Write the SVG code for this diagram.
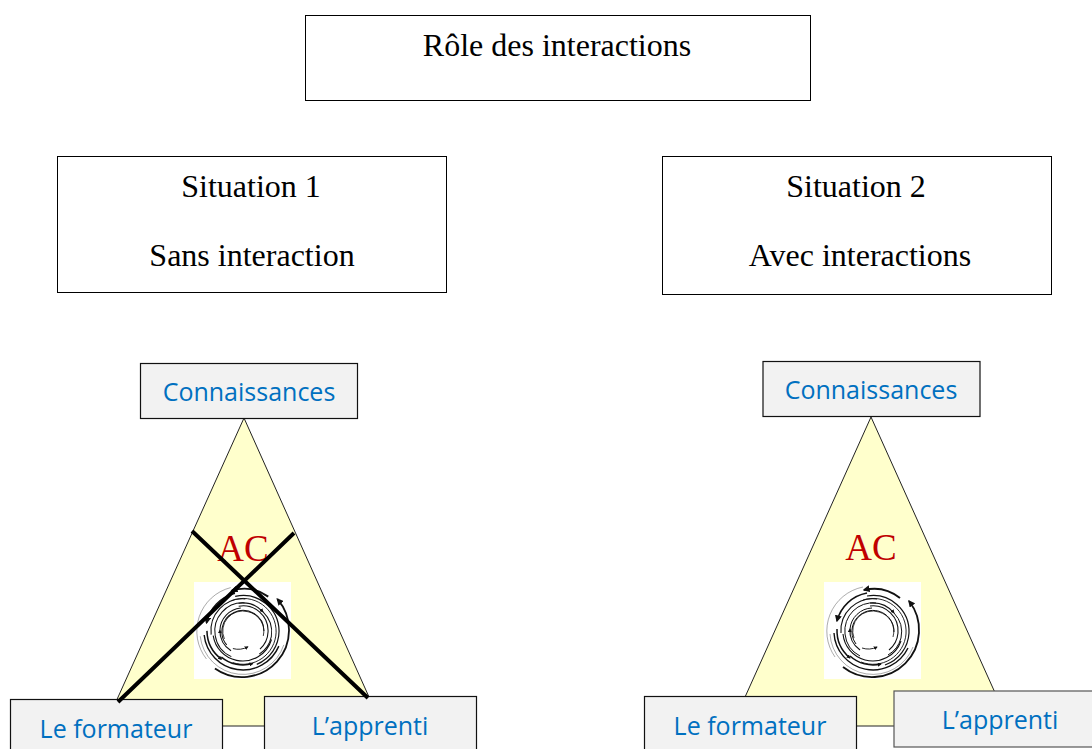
<svg xmlns="http://www.w3.org/2000/svg" width="1092" height="749" viewBox="0 0 1092 749">
<style>
.t{font-family:"Liberation Serif",serif;font-size:32px;fill:#000;text-anchor:middle}
.b{fill:#fff;stroke:#000;stroke-width:1}
.g{fill:#F2F2F2;stroke:#111;stroke-width:1.2}
.l{font-family:"Open Sans","Noto Sans",sans-serif;font-size:25px;fill:#0070C0;text-anchor:middle}
.ac{font-family:"Liberation Serif",serif;font-size:37px;fill:#C00000;text-anchor:middle}
.tri{fill:#FFFFCC;stroke:#222;stroke-width:1}
.x{stroke:#000;stroke-width:4;fill:none}
.s{fill:none;stroke:#111}
.w{fill:#fff}
</style>
<defs>
<marker id="ah" viewBox="0 0 10 10" refX="8" refY="5" markerWidth="7" markerHeight="7" markerUnits="userSpaceOnUse" orient="auto"><path d="M0 0L10 5L0 10z" fill="#111"/></marker>
<marker id="ab" viewBox="0 0 10 10" refX="8" refY="5" markerWidth="4" markerHeight="4" markerUnits="userSpaceOnUse" orient="auto"><path d="M0 0L10 5L0 10z" fill="#111"/></marker>
<g id="spiral">
<path class="s" stroke-width="0.700" opacity="0.500" d="M-10-44A45 45 0 0 0-38 26"/>
<path class="s" stroke-width="1.800" marker-end="url(#ah)" d="M-30 36A47 47 0 0 0 36-30"/>
<path class="s" stroke-width="1.900" marker-end="url(#ah)" d="M27-33A42 42 0 0 0-9-41"/>
<path class="s" stroke-width="1.500" marker-end="url(#ah)" d="M-6-38A38 38 0 0 0-36-10"/>
<path class="s" stroke-width="0.600" opacity="0.600" d="M-43 3A43 43 0 0 0 40 16"/>
<path class="s" stroke-width="1.400" d="M-39 2A39 39 0 0 0 35 17"/>
<path class="s" stroke-width="1.500" marker-end="url(#ab)" d="M-36-2A36 36 0 0 0-23 27"/>
<path class="s" stroke-width="1.500" marker-end="url(#ab)" d="M-23 25A34 34 0 0 0 8 33"/>
<path class="s" stroke-width="1.200" d="M-6-35A36 36 0 0 1 36 2A36 36 0 0 1 12 34"/>
<path class="s" stroke-width="0.900" d="M-10-31A33 33 0 0 1 33 3A33 33 0 0 1-12 31"/>
<path class="s" stroke-width="1.100" d="M-32 2A32 32 0 0 1 4-32"/>
<path class="s" stroke-width="1.100" d="M-30 3A30 30 0 0 0-8 29A30 30 0 0 0 28 10"/>
<path class="s" stroke-width="1" d="M-13 25A28 28 0 0 1-28 3A28 28 0 0 1 3-28"/>
<path class="s" stroke-width="1.100" marker-end="url(#ab)" d="M-3-28A28 28 0 0 1 21-18"/>
<path class="s" stroke-width="1" d="M21-18A28 28 0 0 1 28 7A28 28 0 0 1 15 24"/>
<path class="s" stroke-width="1.100" d="M-3-25A25 25 0 0 1 25 2A25 25 0 0 1 16 19"/>
<path class="s" stroke-width="1.200" marker-end="url(#ab)" d="M-13 19A23 23 0 0 1-23-2"/>
<path class="s" stroke-width="1" d="M-23-2A23 23 0 0 1-1-23"/>
<path class="s" stroke-width="1" d="M-17 13A21 21 0 0 1-8-19A21 21 0 0 1 21 1"/>
<path class="s" stroke-width="0.800" d="M-19 7A20 20 0 0 1 6-19A20 20 0 0 1 20 6"/>
<path class="s" stroke-width="0.900" marker-end="url(#ab)" d="M-11 17A20 20 0 0 0 4 16"/>
</g>
</defs>
<rect width="1092" height="749" fill="#fff"/>
<g id="title"><rect class="b" x="305.500" y="15.500" width="505" height="85"/><text class="t" x="557" y="56">Rôle des interactions</text></g>
<g id="situation1"><rect class="b" x="57.500" y="156.500" width="389" height="136"/><text class="t" x="251" y="197">Situation 1</text><text class="t" x="252" y="266">Sans interaction</text></g>
<g id="situation2"><rect class="b" x="662.500" y="156.500" width="389" height="138"/><text class="t" x="856" y="197">Situation 2</text><text class="t" x="860" y="266">Avec interactions</text></g>
<g id="triangle1"><path class="tri" d="M244 418L382 726H105z"/><text class="ac" x="243" y="561">AC</text><rect class="w" x="194" y="582" width="97" height="97"/><use href="#spiral" transform="translate(243 631) rotate(-3)"/></g>
<g id="triangle2"><path class="tri" d="M871 417L1010 726H732z"/><text class="ac" x="871" y="560">AC</text><rect class="w" x="824" y="582" width="97" height="97"/><use href="#spiral" transform="translate(873 631)"/></g>
<g id="connaissances1"><rect class="g" x="140.500" y="363.500" width="217" height="55"/><text class="l" x="249" y="401">Connaissances</text></g>
<g id="formateur1"><rect class="g" x="10.500" y="699.500" width="212" height="60"/><text class="l" x="116" y="738">Le formateur</text></g>
<g id="apprenti1"><rect class="g" x="264.500" y="696.500" width="212" height="60"/><text class="l" x="370" y="735">L’apprenti</text></g>
<g id="connaissances2"><rect class="g" x="763" y="361.500" width="217" height="55"/><text class="l" x="871" y="399">Connaissances</text></g>
<g id="formateur2"><rect class="g" x="644.500" y="696.500" width="212" height="60"/><text class="l" x="750" y="735">Le formateur</text></g>
<g id="apprenti2"><rect class="g" x="894" y="691" width="212" height="56" style="stroke:#555"/><text class="l" x="1000" y="729">L’apprenti</text></g>
<g id="connectors"><path class="x" d="M192 531L368 698M294 533L118 702"/></g>
</svg>
